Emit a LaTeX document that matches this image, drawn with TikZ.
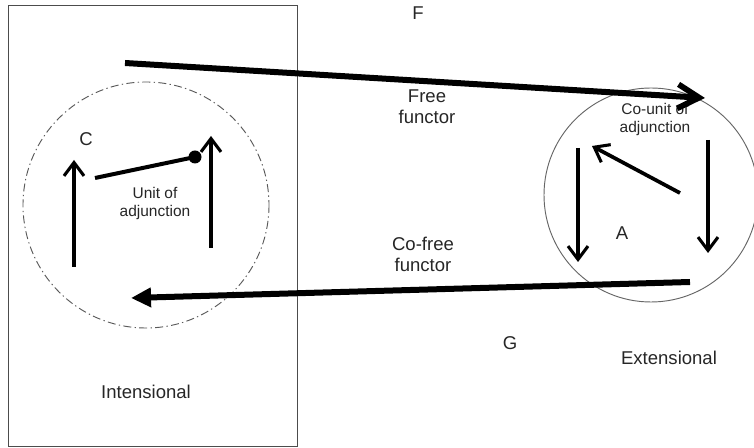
\documentclass[tikz,border=0pt]{standalone}
\usepackage{fontspec}
\setmainfont{Liberation Sans}
\usetikzlibrary{arrows.meta}
\begin{document}
\begin{tikzpicture}[x=0.75pt,y=-0.75pt,
  lbl/.style={inner sep=0pt, align=center, text=black!85, font=\fontsize{13.9}{15.8}\selectfont},
  sml/.style={inner sep=0pt, align=center, text=black!85, font=\fontsize{11.6}{13.5}\selectfont},
  inarrow/.style={line width=2.3pt, -{Straight Barb[length=10pt,width=15pt,line width=2.3pt]}},
  freearrow/.style={line width=4.5pt, -{Straight Barb[length=16pt,width=18pt,line width=4.3pt]}},
  cofreearrow/.style={line width=4.5pt, -{Triangle[length=15pt,width=14pt]}},
  region/.style={draw=black!70, line width=0.7pt},
  catcircle/.style={draw=black!60, line width=0.7pt},
  dashcircle/.style={draw=black!65, line width=0.7pt, dash pattern=on 6pt off 2.5pt on 1pt off 2.5pt}
]
\useasboundingbox (0,0) rectangle (754,448);

% regions
\draw[region] (8,5) rectangle (297,446);
\draw[dashcircle] (146,205) circle[radius=123];
\draw[catcircle] (651,195) circle[radius=107];

% labels
\node[lbl] (F) at (418,13) {F};
\node[lbl] (freelbl) at (427,107) {Free\\functor};
\node[lbl] (cofreelbl) at (423,254) {Co-free\\functor};
\node[lbl] (G) at (510,343) {G};
\node[lbl] (ext) at (669,358) {Extensional};
\node[lbl] (int) at (146,392) {Intensional};
\node[lbl] (C) at (86,139) {C};
\node[lbl] (A) at (622,233) {A};
\node[sml] (unit) at (155,204) {Unit of\\adjunction};
\node[sml] (counit) at (655,120) {Co-unit of\\adjunction};

% endpoints
\coordinate (c1s) at (74,267);  \coordinate (c1e) at (74,160);
\coordinate (c2s) at (211,248); \coordinate (c2e) at (211,136);
\coordinate (us) at (95,178);   \coordinate (ue) at (195,157);
\coordinate (a1s) at (578,148); \coordinate (a1e) at (578,262);
\coordinate (a2s) at (708,140); \coordinate (a2e) at (708,253);
\coordinate (cus) at (680,193); \coordinate (cue) at (592,146);
\coordinate (fs) at (125,63);   \coordinate (fe) at (705,98);
\coordinate (gs) at (690,282);  \coordinate (ge) at (131,298);

% inner arrows
\draw[inarrow] (c1s) -- (c1e);
\draw[inarrow] (c2s) -- (c2e);
\draw[line width=3pt] (us) -- (ue);
\fill (ue) circle[radius=6.5];
\draw[inarrow] (a1s) -- (a1e);
\draw[inarrow] (a2s) -- (a2e);
\draw[inarrow, line width=2.8pt] (cus) -- (cue);

% functors
\draw[freearrow] (fs) -- (fe);
\draw[cofreearrow] (gs) -- (ge);
\end{tikzpicture}
\end{document}
